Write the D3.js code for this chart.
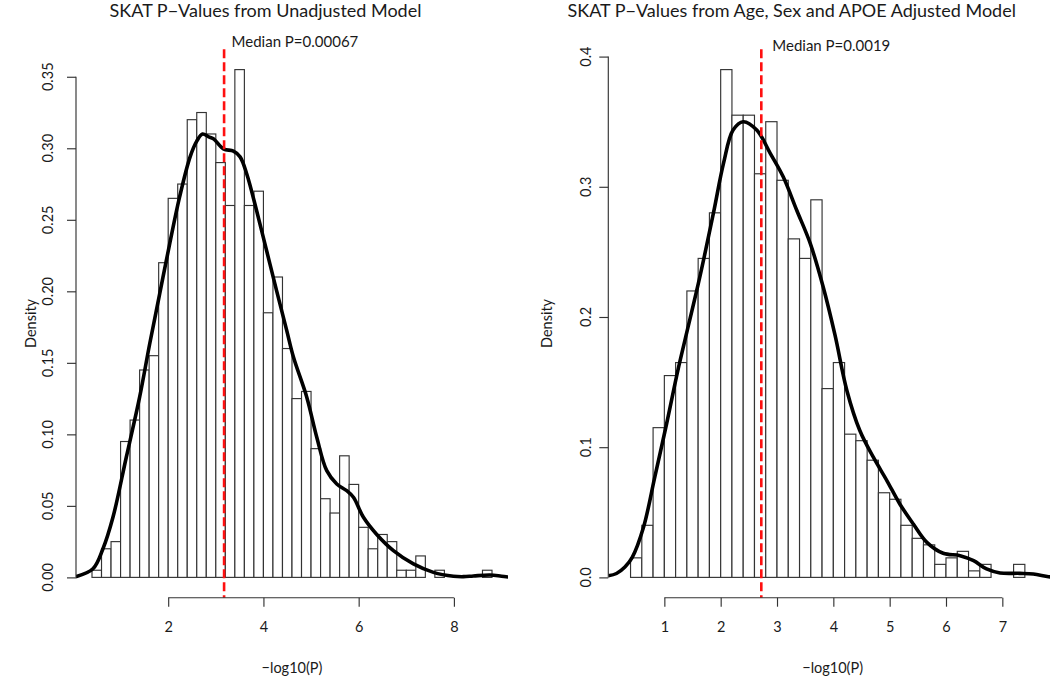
<!DOCTYPE html>
<html><head><meta charset="utf-8">
<script src="https://cdn.jsdelivr.net/npm/d3@7"></script>
<style>
body{margin:0;background:#fff}
svg{display:block}
text{font-family:Lato,"Open Sans",sans-serif;fill:#1a1a1a}
</style>
</head><body>
<svg id="chart" width="1050" height="676"></svg>
<script>
// ---------------- data ----------------
const binWidth = 0.2;

const leftTitle = "SKAT P\u2212Values from Unadjusted Model";
const leftMedianP = 0.00067;
const leftMedianLabel = "Median P=0.00067";
const leftBreakStart = 0.4;
const leftDensity = [0.005,0.020,0.025,0.095,0.110,0.145,0.155,0.220,0.265,0.275,
  0.320,0.325,0.310,0.290,0.260,0.355,0.260,0.270,0.185,0.210,
  0.160,0.125,0.130,0.090,0.055,0.045,0.085,0.065,0.035,0.020,
  0.030,0.025,0.005,0.005,0.015,0.000,0.005,0.000,0.000,0.000,
  0.000,0.005];
const leftCurveX = [0.06,0.42,0.63,0.84,1.12,1.40,1.61,1.82,2.03,2.24,2.46,2.60,2.72,2.85,2.95,3.16,3.37,3.51,3.65,3.86,4.07,4.28,4.49,4.63,4.91,5.12,5.33,5.54,5.75,5.89,6.10,6.38,6.73,7.15,7.57,7.99,8.20,8.41,8.76,9.00,9.15];
const leftCurveY = [0.0005,0.006,0.020,0.042,0.084,0.126,0.163,0.198,0.233,0.266,0.294,0.305,0.310,0.308,0.3066,0.2996,0.298,0.294,0.282,0.256,0.228,0.200,0.1725,0.154,0.126,0.098,0.0746,0.0653,0.0606,0.056,0.042,0.030,0.0187,0.0094,0.0035,0.0008,0.0005,0.001,0.0017,0.0008,0.0002];
const leftXTicks = [2,4,6,8];
const leftYTicks = [0,0.05,0.10,0.15,0.20,0.25,0.30,0.35];
const leftXLim = [0.4, 8.8];

const rightTitle = "SKAT P\u2212Values from Age, Sex and APOE Adjusted Model";
const rightMedianP = 0.0019;
const rightMedianLabel = "Median P=0.0019";
const rightBreakStart = 0.4;
const rightDensity = [0.015,0.040,0.115,0.155,0.165,0.220,0.245,0.280,0.390,0.355,
  0.355,0.310,0.350,0.305,0.260,0.245,0.290,0.145,0.165,0.110,
  0.105,0.090,0.065,0.060,0.040,0.030,0.025,0.010,0.015,0.020,
  0.005,0.010,0.000,0.000,0.010];
const rightCurveX = [0.005,0.15,0.30,0.43,0.63,0.83,1.04,1.24,1.37,1.63,1.87,2.05,2.22,2.40,2.64,2.88,3.11,3.35,3.59,3.82,4.03,4.24,4.47,4.71,4.95,5.18,5.42,5.66,5.95,6.25,6.49,6.72,6.96,7.31,7.55,7.82,7.95];
const rightCurveY = [0.0012,0.0030,0.0080,0.0154,0.0385,0.077,0.118,0.159,0.183,0.2308,0.2795,0.318,0.3436,0.350,0.3436,0.3257,0.3077,0.282,0.2565,0.223,0.186,0.1436,0.1128,0.0923,0.0744,0.0564,0.0410,0.0269,0.0185,0.0167,0.0128,0.0065,0.0034,0.0031,0.0026,0.0005,0.0002];
const rightXTicks = [1,2,3,4,5,6,7];
const rightYTicks = [0,0.1,0.2,0.3,0.4];
const rightXLim = [0.005, 7.97];

const xLabel = "\u2212log10(P)";
const yLabel = "Density";

// ---------------- drawing ----------------
const svg = d3.select("#chart");

function panel(cfg) {
  const g = svg.append("g");
  const x = d3.scaleLinear().domain(cfg.xDomain).range(cfg.xRange);
  const ymax = d3.max(cfg.density);
  const pad = ymax * 0.04;
  const y = d3.scaleLinear().domain([-pad, ymax + pad]).range(cfg.yRange);
  const top = cfg.yRange[1], bottom = cfg.yRange[0];

  const clipId = "clip" + cfg.id;
  svg.append("clipPath").attr("id", clipId).append("rect")
    .attr("x", cfg.xRange[0]).attr("y", top)
    .attr("width", cfg.xRange[1] - cfg.xRange[0]).attr("height", bottom - top);

  // bars
  const bins = cfg.density.map((d, i) => ({x0: cfg.breakStart + i * binWidth, x1: cfg.breakStart + (i + 1) * binWidth, d}));
  g.append("g").selectAll("rect").data(bins).join("rect")
    .attr("x", b => x(b.x0)).attr("width", b => x(b.x1) - x(b.x0))
    .attr("y", b => y(b.d)).attr("height", b => y(0) - y(b.d))
    .attr("fill", "#fff").attr("stroke", "#333").attr("stroke-width", 1.15);

  // density curve
  const pts = cfg.curveX.map((v, i) => [v, cfg.curveY[i]]);
  g.append("path").datum(pts)
    .attr("clip-path", `url(#${clipId})`)
    .attr("d", d3.line().x(p => x(p[0])).y(p => y(p[1])).curve(d3.curveCatmullRom.alpha(0.5)))
    .attr("fill", "none").attr("stroke", "#000").attr("stroke-width", 3.6)
    .attr("stroke-linejoin", "round");

  // median line
  const mx = x(-Math.log10(cfg.medianP));
  g.append("line").attr("x1", mx).attr("x2", mx).attr("y1", top).attr("y2", bottom)
    .attr("stroke", "#ff1010").attr("stroke-width", 2.6).attr("stroke-dasharray", "9,4");
  g.append("text").attr("x", mx + cfg.labelDx).attr("y", cfg.labelY)
    .attr("font-size", 15).text(cfg.medianLabel);

  // x axis
  const xa = g.append("g").attr("transform", `translate(0,${bottom})`)
    .call(d3.axisBottom(x).tickValues(cfg.xTicks).tickFormat(d3.format("d")).tickSize(9).tickSizeOuter(0).tickPadding(15));
  xa.select(".domain").attr("d", `M${x(cfg.xTicks[0])},0H${x(cfg.xTicks[cfg.xTicks.length - 1])}`);
  xa.selectAll("line,path").attr("stroke", "#333").attr("stroke-width", 1.15);
  xa.selectAll("text").attr("font-size", 14.5).attr("font-family", "Lato,'Open Sans',sans-serif").attr("fill", "#1a1a1a");

  // y axis
  const ya = g.append("g").attr("transform", `translate(${cfg.xRange[0]},0)`)
    .call(d3.axisLeft(y).tickValues(cfg.yTicks).tickFormat("").tickSize(9).tickSizeOuter(0));
  ya.select(".domain").attr("d", `M0,${y(cfg.yTicks[0])}V${y(cfg.yTicks[cfg.yTicks.length - 1])}`);
  ya.selectAll("line,path").attr("stroke", "#333").attr("stroke-width", 1.15);
  g.append("g").selectAll("text").data(cfg.yTicks).join("text")
    .attr("transform", t => `translate(${cfg.yLabelX},${y(t)}) rotate(-90)`)
    .attr("text-anchor", "middle").attr("font-size", 14.5)
    .text(t => d3.format(cfg.yFmt)(t));

  // axis titles
  g.append("text").attr("x", (cfg.xRange[0] + cfg.xRange[1]) / 2).attr("y", 673)
    .attr("text-anchor", "middle").attr("font-size", 14.5).text(xLabel);
  g.append("text").attr("transform", `translate(${cfg.densityX},${(top + bottom) / 2}) rotate(-90)`)
    .attr("text-anchor", "middle").attr("font-size", 14.5).text(yLabel);

  // main title
  g.append("text").attr("x", cfg.titleX).attr("y", 17).attr("text-anchor", "middle")
    .attr("font-size", 18).text(cfg.title);
}

// left panel: R-style 4% padding around range of breaks
const lpad = (leftXLim[1] - leftXLim[0]) * 0.04;
panel({
  id: "L", title: leftTitle, titleX: 265.5,
  xDomain: [leftXLim[0] - lpad, leftXLim[1] + lpad], xRange: [76, 508],
  yRange: [597.7, 49.3],
  density: leftDensity, breakStart: leftBreakStart,
  curveX: leftCurveX, curveY: leftCurveY,
  medianP: leftMedianP, medianLabel: leftMedianLabel, labelDx: 7.5, labelY: 46.5,
  xTicks: leftXTicks, yTicks: leftYTicks, yFmt: ".2f",
  yLabelX: 53, densityX: 36
});

panel({
  id: "R", title: rightTitle, titleX: 791.7,
  xDomain: rightXLim, xRange: [608.3, 608.3 + (rightXLim[1] - rightXLim[0]) * 56.33],
  yRange: [597.7, 49.3],
  density: rightDensity, breakStart: rightBreakStart,
  curveX: rightCurveX, curveY: rightCurveY,
  medianP: rightMedianP, medianLabel: rightMedianLabel, labelDx: 11, labelY: 50.5,
  xTicks: rightXTicks, yTicks: rightYTicks, yFmt: ".1f",
  yLabelX: 591, densityX: 552
});
</script>
</body></html>
